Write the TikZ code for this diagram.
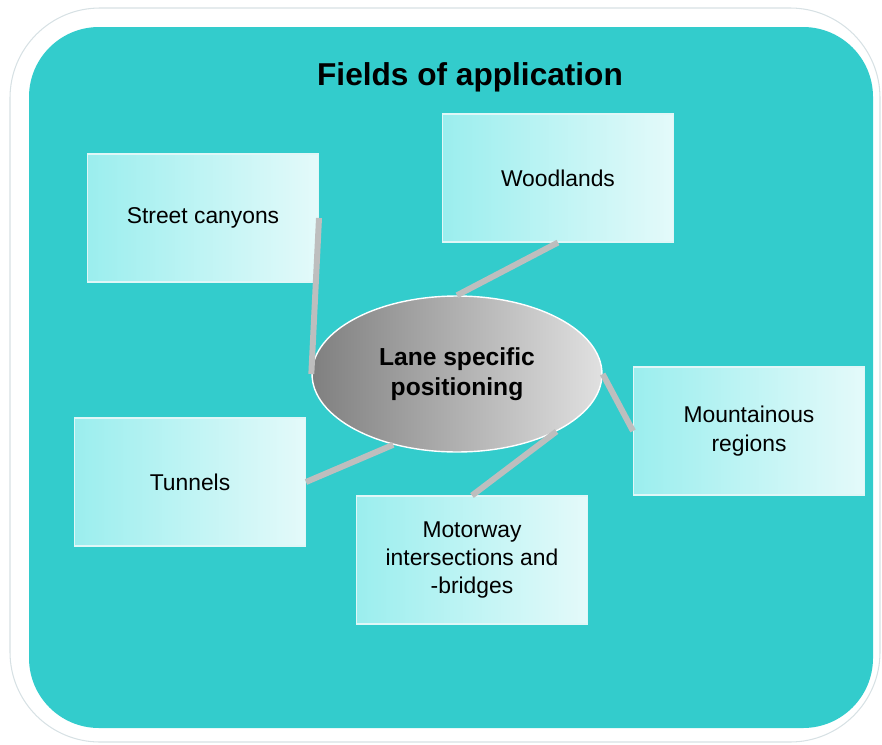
\documentclass[tikz,border=0pt]{standalone}
\usepackage{fontspec}
\setmainfont{Liberation Sans}
\usetikzlibrary{shapes.geometric}

\definecolor{teal}{RGB}{51,204,204}
\definecolor{fieldleft}{RGB}{155,238,238}
\definecolor{fieldright}{RGB}{228,250,250}
\definecolor{linkgray}{RGB}{190,190,190}
\definecolor{framegray}{RGB}{215,225,228}

\begin{document}
\begin{tikzpicture}[x=0.02cm, y=-0.02cm,
    field/.style={rectangle, draw=white!85!teal, line width=0.6pt,
        shading=axis, left color=fieldleft, right color=fieldright,
        minimum width=4.62cm, minimum height=2.56cm,
        align=center, font=\fontsize{13}{16.2}\selectfont},
    link/.style={draw=linkgray, line width=3.4pt}]

    % Fix the size of the page
    \useasboundingbox (0,0) rectangle (882,744);

    % Draw the outer frame and the teal panel
    \draw[framegray, line width=0.6pt, rounded corners=1.8cm] (10,8) rectangle (880,742);
    \fill[teal, rounded corners=1.4cm] (29,27) rectangle (873,728);

    % Add the title
    \node (title) at (470,77) {\fontsize{18}{22}\selectfont\bfseries Fields of application};

    % Draw the central ellipse
    \node[ellipse, draw=white, line width=0.8pt, shading=axis,
        left color=black!50, right color=black!12,
        minimum width=5.8cm, minimum height=3.12cm, inner sep=0pt,
        align=center, font=\fontsize{14}{17}\selectfont\bfseries]
        (lane) at (457,374) {Lane specific\\positioning};

    % Draw the fields around it
    \node[field] (street)   at (203,218) {Street canyons};
    \node[field] (woods)    at (558,178) {Woodlands};
    \node[field] (tunnels)  at (190,482) {Tunnels};
    \node[field] (motorway) at (472,560) {Motorway\\intersections and\\-bridges};
    \node[field] (mountain) at (749,431) {Mountainous\\regions};

    % Connect the fields to the ellipse
    \draw[link] (street.east) -- (lane.west);
    \draw[link] (woods.south) -- (lane.north);
    \draw[link] (tunnels.east) -- (lane.228);
    \draw[link] (motorway.north) -- (lane.330);
    \draw[link] (mountain.west) -- (lane.east);

\end{tikzpicture}
\end{document}
